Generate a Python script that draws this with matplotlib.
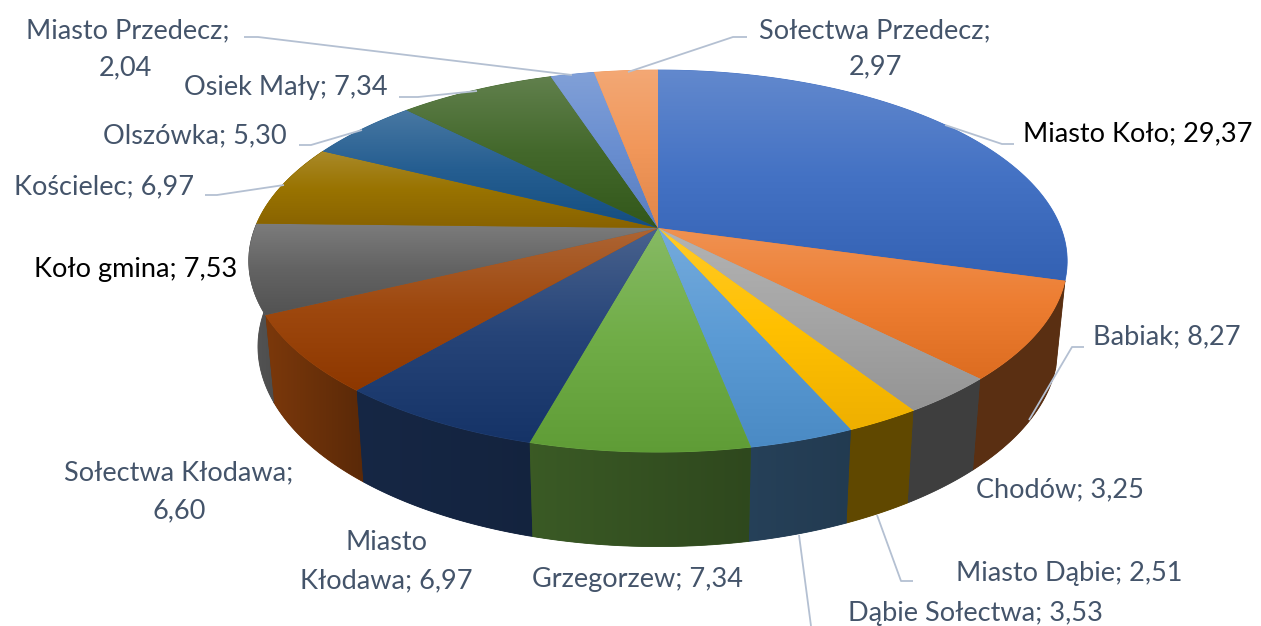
import numpy as np
import matplotlib
matplotlib.use("Agg")
import matplotlib.pyplot as plt
from matplotlib.colors import to_rgb
from matplotlib.patches import Polygon

plt.rcParams['font.family'] = ['Lato', 'DejaVu Sans']

names = ["Miasto Koło", "Babiak", "Chodów", "Miasto Dąbie", "Dąbie Sołectwa",
         "Grzegorzew", "Miasto Kłodawa", "Sołectwa Kłodawa", "Koło gmina",
         "Kościelec", "Olszówka", "Osiek Mały", "Miasto Przedecz", "Sołectwa Przedecz"]
values = [29.37, 8.27, 3.25, 2.51, 3.53, 7.34, 6.97, 6.60, 7.53, 6.97, 5.30, 7.34, 2.04, 2.97]
colors = ["#4472C4", "#ED7D31", "#A5A5A5", "#FFC000", "#5B9BD5", "#70AD47", "#264478",
          "#9E480E", "#636363", "#997300", "#255E91", "#43682B", "#698ED0", "#F1975A"]

label_lines = [["Miasto Koło; 29,37"], ["Babiak; 8,27"], ["Chodów; 3,25"], ["Miasto Dąbie; 2,51"],
               ["Dąbie Sołectwa; 3,53"], ["Grzegorzew; 7,34"], ["Miasto", "Kłodawa; 6,97"],
               ["Sołectwa Kłodawa;", "6,60"], ["Koło gmina; 7,53"], ["Kościelec; 6,97"],
               ["Olszówka; 5,30"], ["Osiek Mały; 7,34"], ["Miasto Przedecz;", "2,04"],
               ["Sołectwa Przedecz;", "2,97"]]
label_pos = [[(1138, 134)], [(1167, 337)], [(1060, 490)], [(1069, 573)], [(975, 613)], [(637, 579)],
             [(386, 543), (386, 581)], [(179, 473), (179, 511)], [(136, 269)], [(104, 187)],
             [(195, 136)], [(286, 88)], [(128, 31), (125, 68)], [(875, 31), (875, 67)]]
label_black = ["Miasto Koło", "Koło gmina"]

leaders = [[(945, 125), (1002, 144), (1014, 144)],
           [(1084, 347), (1072, 347), (1029, 420)],
           [(913, 581), (901, 581), (877, 515)],
           [(811, 626), (799, 535)],
           [(205, 195), (217, 195), (284, 185)],
           [(299, 145), (311, 145), (362, 130)],
           [(399, 97), (418, 97), (477, 91)],
           [(244, 37), (258, 37), (572, 75)],
           [(747, 37), (733, 37), (628, 72)]]

# perspective model of the pie (pixels)
CX, K = 658.0, 0.173
TOP_CY, TOP_A, TOP_B = 228.0, 185.3, 403.0
BOT_CY, BOT_A, BOT_B = 312.0, 194.0, 394.0


def project(theta, cy, a, b):
    X, Y = np.sin(theta), np.cos(theta)
    d = 1 + K * Y
    return np.column_stack((CX + b * X / d, cy - a * Y / d))


def shade(theta):
    deg = np.degrees(theta)
    return np.interp(deg, [90, 160, 195, 225, 250, 275], [.38, .38, .52, .58, .84, .86])


fig = plt.figure(figsize=(12.61, 6.26), dpi=100, facecolor="white")
ax = fig.add_axes([0, 0, 1, 1])
ax.set_xlim(0, 1261)
ax.set_ylim(626, 0)
ax.axis("off")

frac = np.cumsum([0] + values) / sum(values) * 2 * np.pi
slices = [(frac[i], frac[i + 1], colors[i]) for i in range(len(values))]

# walls, back to front
order = sorted(range(len(slices)), key=lambda i: -abs(np.pi - (slices[i][0] + slices[i][1]) / 2))
for i in order:
    t0, t1, col = slices[i]
    if np.cos((t0 + t1) / 2) > 0.3:
        continue
    ts = np.linspace(t0, t1, 60)
    poly = np.vstack((project(ts, TOP_CY, TOP_A, TOP_B), project(ts[::-1], BOT_CY, BOT_A, BOT_B)))
    base = np.array(to_rgb(col))
    x0, x1 = poly[:, 0].min(), poly[:, 0].max()
    y0, y1 = poly[:, 1].min(), poly[:, 1].max()
    u = np.linspace(0, 1, 64)
    s = shade(t1) + (shade(t0) - shade(t1)) * u
    img = (base[None, :] * s[:, None])[None, :, :]
    mid = base * (shade(t0) + shade(t1)) / 2
    ax.add_patch(Polygon(poly, closed=True, fc=mid, ec=mid, lw=0.6, zorder=1))
    im = ax.imshow(img, extent=(x0, x1, y1, y0), aspect="auto", interpolation="bilinear", zorder=1.1)
    clip = Polygon(poly, closed=True, transform=ax.transData)
    im.set_clip_path(clip)

# top face
for t0, t1, col in slices:
    ts = np.linspace(t0, t1, 120)
    poly = np.vstack(([[CX, TOP_CY]], project(ts, TOP_CY, TOP_A, TOP_B)))
    base = np.array(to_rgb(col))
    light = base + (1 - base) * 0.16
    low = np.clip(base - 0.065, 0, 1)
    v = np.linspace(0, 1, 128)
    img = np.stack([np.interp(v, [0, .5, 1], [light[c], base[c], low[c]]) for c in range(3)], axis=1)[:, None, :]
    x0, x1 = poly[:, 0].min(), poly[:, 0].max()
    y0, y1 = poly[:, 1].min(), poly[:, 1].max()
    ax.add_patch(Polygon(poly, closed=True, fc=base, ec=base, lw=0.6, zorder=2))
    im = ax.imshow(img, extent=(x0, x1, y1, y0), aspect="auto", interpolation="bilinear", zorder=2.1)
    im.set_clip_path(Polygon(poly, closed=True, transform=ax.transData))

ax.set_xlim(0, 1261)
ax.set_ylim(626, 0)

for pts in leaders:
    xs, ys = zip(*pts)
    ax.plot(xs, ys, color="#B4C0D2", lw=1.3, zorder=3, solid_capstyle="butt")

for name, lines, pos in zip(names, label_lines, label_pos):
    c = "black" if name in label_black else "#44546A"
    for line, (x, y) in zip(lines, pos):
        ax.text(x, y, line, ha="center", va="center", fontsize=19.5, color=c, zorder=4)

fig.savefig("out.png", dpi=100, facecolor="white")
